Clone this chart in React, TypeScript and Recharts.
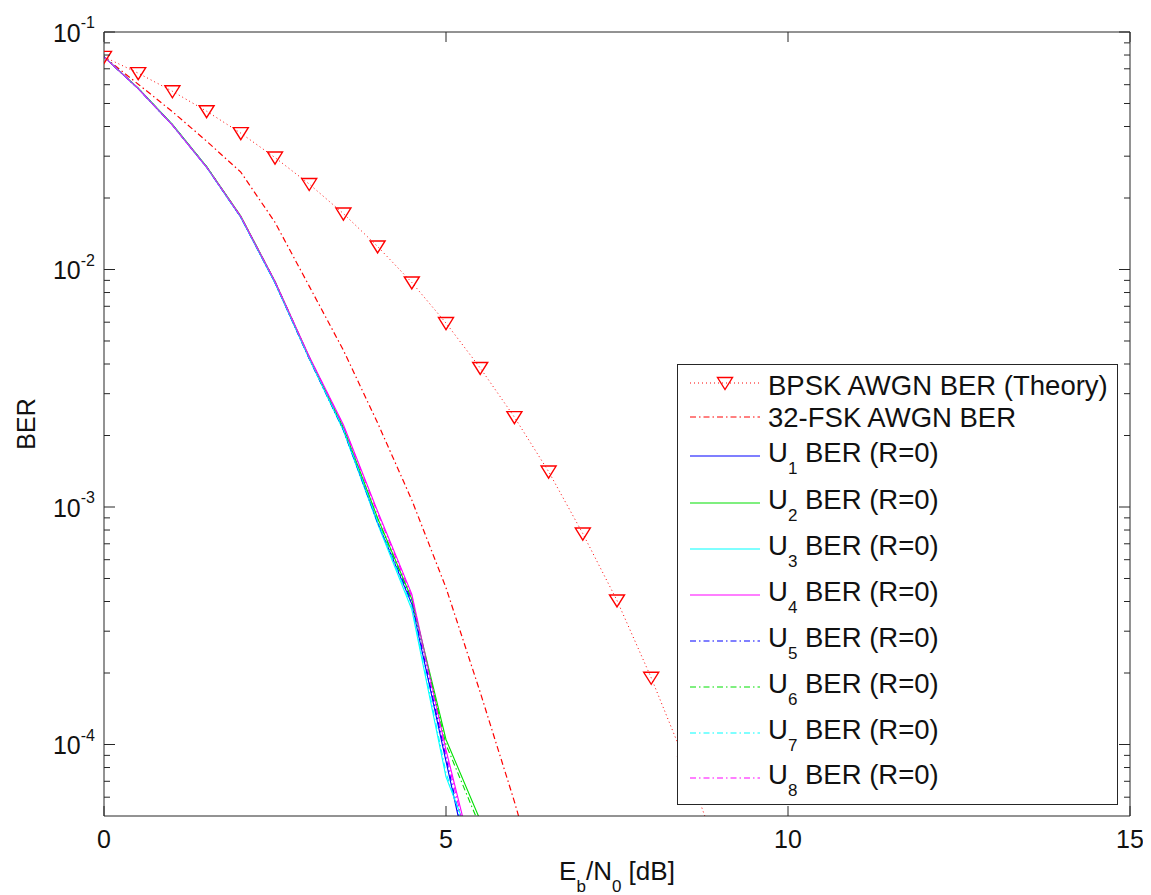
import React from 'react';
import { LineChart, Line, XAxis, YAxis, Legend } from 'recharts';

// ---------- data ----------
const EBN0 = [0, 0.5, 1, 1.5, 2, 2.5, 3, 3.5, 4, 4.5, 5, 5.5, 6, 6.5, 7, 7.5, 8, 8.5, 9];

const BPSK_THEORY = [0.0786, 0.0671, 0.0563, 0.0464, 0.0375, 0.0296, 0.0229, 0.0172, 0.0125, 0.00882,
  0.00595, 0.00385, 0.00239, 0.00141, 0.000773, 0.000404, 0.000191, 0.0000843, 0.0000336];

const FSK32 = [0.0786, 0.0603, 0.0462, 0.0347, 0.0257, 0.0158, 0.00851, 0.00457, 0.00226, 0.00107,
  0.000457, 0.000166, 0.0000575, 0.0000182];

const U1 = [0.0786, 0.0578, 0.0406, 0.0270, 0.0166, 0.0088, 0.00423, 0.00212, 0.00086, 0.00039, 0.000085, 0.000019];
const U2 = [0.0786, 0.0580, 0.0408, 0.0271, 0.0168, 0.0089, 0.00428, 0.00216, 0.00090, 0.00041, 0.000105, 0.000048];
const U3 = [0.0786, 0.0578, 0.0406, 0.0269, 0.0166, 0.0088, 0.00422, 0.00210, 0.00085, 0.00037, 0.000073, 0.000031];
const U4 = [0.0786, 0.0577, 0.0405, 0.0270, 0.0167, 0.0089, 0.00430, 0.00222, 0.00096, 0.00043, 0.000095, 0.000025];
const U5 = [0.0786, 0.0578, 0.0406, 0.0270, 0.0166, 0.0088, 0.00421, 0.00211, 0.00086, 0.00040, 0.000088, 0.000020];
const U6 = [0.0786, 0.0579, 0.0407, 0.0271, 0.0167, 0.0089, 0.00426, 0.00215, 0.00089, 0.00041, 0.000100, 0.000045];
const U7 = [0.0786, 0.0578, 0.0406, 0.0270, 0.0166, 0.0088, 0.00423, 0.00213, 0.00087, 0.00038, 0.000076, 0.000028];
const U8 = [0.0786, 0.0578, 0.0406, 0.0270, 0.0167, 0.0089, 0.00429, 0.00220, 0.00094, 0.00042, 0.000092, 0.000023];

const X_TICKS = [0, 5, 10, 15];
const Y_MAJOR = [1e-1, 1e-2, 1e-3, 1e-4];
const Y_MAJOR_EXP = ['-1', '-2', '-3', '-4'];
const Y_MINOR = [
  2e-2, 3e-2, 4e-2, 5e-2, 6e-2, 7e-2, 8e-2, 9e-2,
  2e-3, 3e-3, 4e-3, 5e-3, 6e-3, 7e-3, 8e-3, 9e-3,
  2e-4, 3e-4, 4e-4, 5e-4, 6e-4, 7e-4, 8e-4, 9e-4,
  6e-5, 7e-5, 8e-5, 9e-5,
];
const Y_TICKS = [...Y_MAJOR, ...Y_MINOR];
const Y_DOMAIN: [number, number] = [5e-5, 1e-1];
const X_DOMAIN: [number, number] = [0, 15];

const U_SERIES = [
  { key: 'u1', sub: '1', values: U1, color: '#0000ff', dash: undefined },
  { key: 'u2', sub: '2', values: U2, color: '#00e000', dash: undefined },
  { key: 'u3', sub: '3', values: U3, color: '#00ffff', dash: undefined },
  { key: 'u4', sub: '4', values: U4, color: '#ff00ff', dash: undefined },
  { key: 'u5', sub: '5', values: U5, color: '#0000ff', dash: '6 3 1.5 3' },
  { key: 'u6', sub: '6', values: U6, color: '#00e000', dash: '6 3 1.5 3' },
  { key: 'u7', sub: '7', values: U7, color: '#00ffff', dash: '6 3 1.5 3' },
  { key: 'u8', sub: '8', values: U8, color: '#ff00ff', dash: '6 3 1.5 3' },
];

const rows = EBN0.map((x, i) => {
  const r: any = { x, bpsk: BPSK_THEORY[i], fsk: FSK32[i] };
  U_SERIES.forEach((s) => {
    r[s.key] = s.values[i];
  });
  return r;
});

// ---------- styling ----------
const FONT = '"Liberation Sans", Arial, Helvetica, sans-serif';
const AXIS_COLOR = '#262626';
const TEXT_COLOR = '#111111';
const RED = '#ff0000';
const DASHDOT = '6 3 1.5 3';

// ---------- ticks ----------
function LeftTick(props: any) {
  const { x, y, payload } = props;
  const mi = Y_MAJOR.indexOf(payload.value);
  const len = mi >= 0 ? 11 : 6;
  return (
    <g>
      <line x1={x} x2={x + len} y1={y} y2={y} stroke={AXIS_COLOR} strokeWidth={1} />
      {mi >= 0 && (
        <text x={x - 9} y={y + 9.5} textAnchor="end" fontFamily={FONT} fontSize={25} fill={TEXT_COLOR}>
          10
          <tspan dy={-13.5} fontSize={16}>{Y_MAJOR_EXP[mi]}</tspan>
        </text>
      )}
    </g>
  );
}

function RightTick(props: any) {
  const { x, y, payload } = props;
  const len = Y_MAJOR.indexOf(payload.value) >= 0 ? 11 : 6;
  return <line x1={x} x2={x - len} y1={y} y2={y} stroke={AXIS_COLOR} strokeWidth={1} />;
}

function BottomTick(props: any) {
  const { x, y, payload } = props;
  return (
    <g>
      <line x1={x} x2={x} y1={y} y2={y - 10} stroke={AXIS_COLOR} strokeWidth={1} />
      <text x={x} y={y + 32} textAnchor="middle" fontFamily={FONT} fontSize={25} fill={TEXT_COLOR}>
        {String(payload.value)}
      </text>
    </g>
  );
}

function TopTick(props: any) {
  const { x, y } = props;
  return <line x1={x} x2={x} y1={y} y2={y + 10} stroke={AXIS_COLOR} strokeWidth={1} />;
}

function TriangleDot(props: any) {
  const { cx, cy, payload, index } = props;
  if (cx == null || cy == null || payload == null || payload.bpsk == null || payload.bpsk < Y_DOMAIN[0]) {
    return <g key={`tri-${index}`} />;
  }
  const d = `M${cx - 7.5},${cy - 5.5} L${cx + 7.5},${cy - 5.5} L${cx},${cy + 6.5} Z`;
  return <path key={`tri-${index}`} d={d} fill="none" stroke={RED} strokeWidth={1.4} />;
}

// ---------- legend ----------
const LEGEND_ROW_Y = [18, 52, 91, 138, 184, 230, 276, 322, 368, 413];

function LegendBox() {
  const textProps = { fontFamily: FONT, fontSize: 27.5, fill: TEXT_COLOR } as any;
  return (
    <div
      style={{
        width: 441,
        height: 441,
        boxSizing: 'border-box',
        border: `1px solid ${AXIS_COLOR}`,
        background: '#ffffff',
      }}
    >
      <svg width={439} height={439} style={{ display: 'block' }}>
        {/* BPSK */}
        <line x1={12} x2={82} y1={LEGEND_ROW_Y[0]} y2={LEGEND_ROW_Y[0]} stroke={RED} strokeWidth={1} strokeDasharray="1 3" />
        <path
          d={`M${47 - 7.5},${LEGEND_ROW_Y[0] - 5.5} L${47 + 7.5},${LEGEND_ROW_Y[0] - 5.5} L47,${LEGEND_ROW_Y[0] + 6.5} Z`}
          fill="none"
          stroke={RED}
          strokeWidth={1.4}
        />
        <text x={90} y={LEGEND_ROW_Y[0] + 12} {...textProps}>BPSK AWGN BER (Theory)</text>
        {/* FSK */}
        <line x1={12} x2={82} y1={LEGEND_ROW_Y[1]} y2={LEGEND_ROW_Y[1]} stroke={RED} strokeWidth={1} strokeDasharray={DASHDOT} />
        <text x={90} y={LEGEND_ROW_Y[1] + 10} {...textProps}>32-FSK AWGN BER</text>
        {U_SERIES.map((s, i) => {
          const y = LEGEND_ROW_Y[i + 2];
          return (
            <g key={s.key}>
              <line x1={12} x2={82} y1={y} y2={y} stroke={s.color} strokeWidth={1.2} strokeDasharray={s.dash} />
              <text x={90} y={y + 6} {...textProps}>
                U
                <tspan dy={12} fontSize={17}>{s.sub}</tspan>
                <tspan dy={-12}>{'\u00A0BER (R=0)'}</tspan>
              </text>
            </g>
          );
        })}
      </svg>
    </div>
  );
}

// ---------- labels ----------
function XLabel(props: any) {
  const vb = props.viewBox || { x: 96, y: 808, width: 1026, height: 79 };
  return (
    <text x={vb.x + vb.width / 2} y={vb.y + 64} textAnchor="middle" fontFamily={FONT} fontSize={26} fill={TEXT_COLOR}>
      E
      <tspan dy={12} fontSize={17}>b</tspan>
      <tspan dy={-12}>/N</tspan>
      <tspan dy={12} fontSize={17}>0</tspan>
      <tspan dy={-12}>{'\u00A0[dB]'}</tspan>
    </text>
  );
}

function YLabel(props: any) {
  const vb = props.viewBox || { x: 0, y: 24, width: 96, height: 784 };
  const cx = vb.x + 27;
  const cy = vb.y + vb.height / 2;
  return (
    <text x={cx} y={cy} transform={`rotate(-90 ${cx} ${cy})`} textAnchor="middle" fontFamily={FONT} fontSize={25} fill={TEXT_COLOR}>
      BER
    </text>
  );
}

export default function App() {
  return (
    <LineChart width={1143} height={887} data={rows} margin={{ top: 23, right: 20, bottom: 0, left: 0 }}>
      <XAxis
        xAxisId="b"
        dataKey="x"
        type="number"
        domain={X_DOMAIN}
        allowDataOverflow
        ticks={X_TICKS}
        interval={0}
        height={79}
        tickLine={false}
        tickSize={0}
        tickMargin={0}
        axisLine={{ stroke: AXIS_COLOR, strokeWidth: 1 }}
        tick={(p: any) => <BottomTick {...p} />}
        label={{ content: (p: any) => <XLabel {...p} /> }}
      />
      <XAxis
        xAxisId="t"
        orientation="top"
        dataKey="x"
        type="number"
        domain={X_DOMAIN}
        allowDataOverflow
        ticks={X_TICKS}
        interval={0}
        height={1}
        tickLine={false}
        tickSize={0}
        tickMargin={0}
        axisLine={{ stroke: AXIS_COLOR, strokeWidth: 1 }}
        tick={(p: any) => <TopTick {...p} />}
      />
      <YAxis
        yAxisId="l"
        type="number"
        scale="log"
        domain={Y_DOMAIN}
        allowDataOverflow
        ticks={Y_TICKS}
        interval={0}
        width={96}
        tickLine={false}
        tickSize={0}
        tickMargin={0}
        axisLine={{ stroke: AXIS_COLOR, strokeWidth: 1 }}
        tick={(p: any) => <LeftTick {...p} />}
        label={{ content: (p: any) => <YLabel {...p} /> }}
      />
      <YAxis
        yAxisId="r"
        orientation="right"
        type="number"
        scale="log"
        domain={Y_DOMAIN}
        allowDataOverflow
        ticks={Y_TICKS}
        interval={0}
        width={1}
        tickLine={false}
        tickSize={0}
        tickMargin={0}
        axisLine={{ stroke: AXIS_COLOR, strokeWidth: 1 }}
        tick={(p: any) => <RightTick {...p} />}
      />

      <Line
        xAxisId="b"
        yAxisId="l"
        dataKey="bpsk"
        name="BPSK AWGN BER (Theory)"
        type="linear"
        stroke={RED}
        strokeWidth={1}
        strokeDasharray="1 3"
        dot={(p: any) => <TriangleDot {...p} />}
        activeDot={false}
        isAnimationActive={false}
      />
      <Line
        xAxisId="b"
        yAxisId="l"
        dataKey="fsk"
        name="32-FSK AWGN BER"
        type="linear"
        stroke={RED}
        strokeWidth={1.2}
        strokeDasharray={DASHDOT}
        dot={false}
        activeDot={false}
        isAnimationActive={false}
      />
      {U_SERIES.map((s) => (
        <Line
          key={s.key}
          xAxisId="b"
          yAxisId="l"
          dataKey={s.key}
          name={`U${s.sub} BER (R=0)`}
          type="linear"
          stroke={s.color}
          strokeWidth={1.1}
          strokeDasharray={s.dash}
          dot={false}
          activeDot={false}
          isAnimationActive={false}
        />
      ))}
      <Legend
        layout="vertical"
        align="center"
        verticalAlign="middle"
        content={() => <LegendBox />}
        wrapperStyle={{ left: 669, top: 356, width: 441, height: 441 }}
      />
    </LineChart>
  );
}
